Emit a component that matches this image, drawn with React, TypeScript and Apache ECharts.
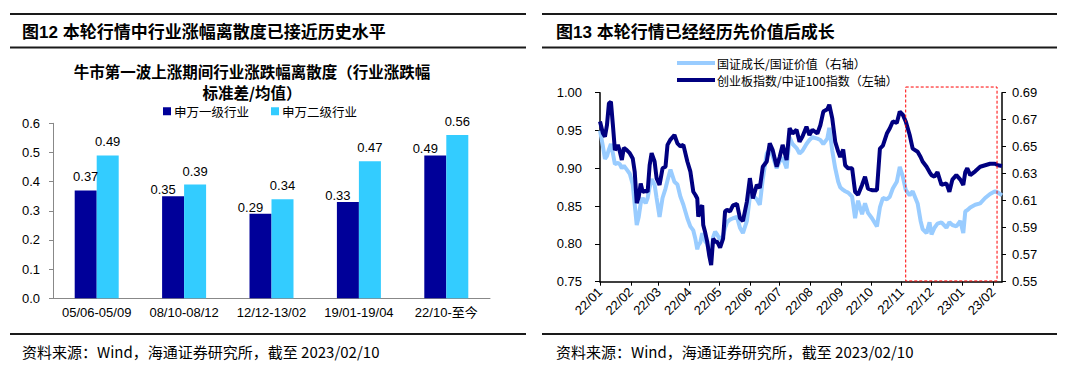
import React, { useEffect, useRef } from 'react';
import * as echarts from 'echarts';

// ---- Left chart data ----
const barCategories = ['05/06-05/09', '08/10-08/12', '12/12-13/02', '19/01-19/04', '22/10-至今'];
const swLevel1 = [0.37, 0.35, 0.29, 0.33, 0.49];
const swLevel2 = [0.49, 0.39, 0.34, 0.47, 0.56];

// ---- Right chart data ----
const lineDates = [
  '2022-01-01', '2022-01-04', '2022-01-06', '2022-01-08', '2022-01-10', '2022-01-12', '2022-01-14', '2022-01-16',
  '2022-01-19', '2022-01-21', '2022-01-23', '2022-01-25', '2022-01-28', '2022-01-31', '2022-02-03', '2022-02-05',
  '2022-02-07', '2022-02-09', '2022-02-11', '2022-02-13', '2022-02-16', '2022-02-18', '2022-02-20', '2022-02-22',
  '2022-02-25', '2022-02-27', '2022-03-02', '2022-03-05', '2022-03-08', '2022-03-10', '2022-03-13', '2022-03-17',
  '2022-03-20', '2022-03-23', '2022-03-26', '2022-03-30', '2022-04-02', '2022-04-05', '2022-04-07', '2022-04-09',
  '2022-04-10', '2022-04-12', '2022-04-14', '2022-04-15', '2022-04-17', '2022-04-19', '2022-04-21', '2022-04-23',
  '2022-04-25', '2022-04-27', '2022-04-29', '2022-05-02', '2022-05-05', '2022-05-07', '2022-05-09', '2022-05-12',
  '2022-05-15', '2022-05-19', '2022-05-22', '2022-05-25', '2022-05-29', '2022-06-01', '2022-06-04', '2022-06-08',
  '2022-06-11', '2022-06-14', '2022-06-18', '2022-06-21', '2022-06-24', '2022-06-28', '2022-07-01', '2022-07-04',
  '2022-07-08', '2022-07-11', '2022-07-14', '2022-07-18', '2022-07-21', '2022-07-24', '2022-07-28', '2022-07-31',
  '2022-08-03', '2022-08-08', '2022-08-11', '2022-08-14', '2022-08-18', '2022-08-20', '2022-08-23', '2022-08-26',
  '2022-08-29', '2022-08-31', '2022-09-03', '2022-09-05', '2022-09-08', '2022-09-12', '2022-09-15', '2022-09-18',
  '2022-09-22', '2022-09-25', '2022-09-28', '2022-10-02', '2022-10-07', '2022-10-10', '2022-10-13', '2022-10-17',
  '2022-10-20', '2022-10-23', '2022-10-27', '2022-10-30', '2022-11-02', '2022-11-05', '2022-11-09', '2022-11-12',
  '2022-11-17', '2022-11-20', '2022-11-22', '2022-11-26', '2022-11-29', '2022-12-01', '2022-12-04', '2022-12-07',
  '2022-12-11', '2022-12-16', '2022-12-19', '2022-12-22', '2022-12-26', '2022-12-30', '2023-01-02', '2023-01-04',
  '2023-01-06', '2023-01-09', '2023-01-14', '2023-01-19', '2023-01-24', '2023-01-29', '2023-02-03', '2023-02-06',
  '2023-02-10',
];
// 创业板指数/中证100指数 (left axis)
const chinextToCsi100 = [
  0.962, 0.946, 0.942, 0.957, 0.986, 0.988, 0.957, 0.924,
  0.931, 0.922, 0.911, 0.927, 0.924, 0.920, 0.913, 0.895,
  0.854, 0.862, 0.880, 0.869, 0.870, 0.869, 0.904, 0.920,
  0.909, 0.887, 0.878, 0.900, 0.902, 0.931, 0.938, 0.944,
  0.933, 0.929, 0.931, 0.909, 0.896, 0.869, 0.865, 0.860,
  0.836, 0.847, 0.851, 0.825, 0.815, 0.803, 0.785, 0.772,
  0.807, 0.803, 0.803, 0.795, 0.807, 0.843, 0.845, 0.843,
  0.851, 0.853, 0.834, 0.830, 0.856, 0.887, 0.860, 0.878,
  0.874, 0.902, 0.909, 0.933, 0.924, 0.902, 0.915, 0.931,
  0.911, 0.953, 0.946, 0.951, 0.935, 0.942, 0.955, 0.944,
  0.951, 0.946, 0.957, 0.975, 0.978, 0.984, 0.966, 0.935,
  0.922, 0.915, 0.925, 0.904, 0.900, 0.900, 0.869, 0.865,
  0.878, 0.889, 0.873, 0.871, 0.871, 0.926, 0.930, 0.946,
  0.953, 0.962, 0.960, 0.975, 0.971, 0.962, 0.944, 0.926,
  0.922, 0.915, 0.909, 0.902, 0.895, 0.891, 0.889, 0.895,
  0.878, 0.880, 0.869, 0.885, 0.891, 0.885, 0.878, 0.895,
  0.900, 0.891, 0.896, 0.902, 0.904, 0.906, 0.906, 0.904,
  0.903,
];
// 国证成长/国证价值 (right axis)
const growthToValue = [
  0.662, 0.650, 0.641, 0.643, 0.648, 0.652, 0.645, 0.637,
  0.638, 0.637, 0.634, 0.636, 0.633, 0.630, 0.622, 0.607,
  0.592, 0.598, 0.608, 0.612, 0.608, 0.612, 0.620, 0.626,
  0.622, 0.612, 0.598, 0.612, 0.619, 0.625, 0.633, 0.624,
  0.622, 0.613, 0.607, 0.597, 0.591, 0.588, 0.582, 0.574,
  0.577, 0.579, 0.586, 0.584, 0.580, 0.578, 0.572, 0.569,
  0.583, 0.587, 0.585, 0.581, 0.584, 0.590, 0.594, 0.596,
  0.597, 0.598, 0.590, 0.586, 0.595, 0.613, 0.614, 0.611,
  0.607, 0.626, 0.645, 0.648, 0.643, 0.634, 0.639, 0.642,
  0.634, 0.657, 0.652, 0.649, 0.645, 0.647, 0.652, 0.655,
  0.657, 0.656, 0.655, 0.652, 0.656, 0.664, 0.647, 0.634,
  0.624, 0.620, 0.618, 0.617, 0.616, 0.613, 0.597, 0.610,
  0.600, 0.608, 0.601, 0.597, 0.591, 0.605, 0.612, 0.611,
  0.613, 0.619, 0.624, 0.635, 0.628, 0.618, 0.614, 0.617,
  0.608, 0.595, 0.589, 0.586, 0.594, 0.585, 0.590, 0.593,
  0.594, 0.590, 0.594, 0.592, 0.591, 0.595, 0.586, 0.602,
  0.603, 0.605, 0.607, 0.608, 0.612, 0.615, 0.617, 0.616,
  0.614,
];
const leftAxisTicks = [0.75, 0.8, 0.85, 0.9, 0.95, 1.0];
const rightAxisTicks = [0.55, 0.57, 0.59, 0.61, 0.63, 0.65, 0.67, 0.69];
const monthTicks = [
  '2022-01-01', '2022-02-01', '2022-03-01', '2022-04-01', '2022-05-01', '2022-06-01', '2022-07-01',
  '2022-08-01', '2022-09-01', '2022-10-01', '2022-11-01', '2022-12-01', '2023-01-01', '2023-02-01',
];
const axisStart = '2022-01-01';
const axisEnd = '2023-02-10';
const highlightRange = { start: '2022-11-05', end: '2023-02-05', low: 0.751, high: 1.0075 };

const lightName = '国证成长/国证价值（右轴）';
const darkName = '创业板指数/中证100指数（左轴）';
const level1Name = '申万一级行业';
const level2Name = '申万二级行业';

const FONT = "'Liberation Sans', 'Noto Sans CJK SC', sans-serif";
const CJK = "'Noto Sans CJK SC', 'Liberation Sans', sans-serif";

function localTime(s: string): number {
  const [y, m, d] = s.split('-').map(Number);
  return new Date(y, m - 1, d).getTime();
}

export default function App() {
  const ref = useRef<HTMLDivElement>(null);
  useEffect(() => {
    if (!ref.current) return;
    const chart = echarts.init(ref.current, undefined, { renderer: 'svg' });
    const monthTickValues = monthTicks.map(localTime);

    const hline = (x1: number, x2: number, y: number) => ({
      type: 'line',
      shape: { x1, y1: y, x2, y2: y },
      style: { stroke: '#1a1a1a', lineWidth: 2 },
      silent: true,
    });
    const text = (x: number, y: number, t: string, size: number, weight: string, align = 'left', family = CJK) => ({
      type: 'text',
      x,
      y,
      style: { text: t, fontSize: size, fontWeight: weight, fontFamily: family, fill: '#000', align, verticalAlign: 'middle' },
      silent: true,
    });

    const option: any = {
      animation: false,
      backgroundColor: '#fff',
      textStyle: { fontFamily: FONT },
      graphic: {
        elements: [
          hline(10, 526, 14), hline(10, 526, 47.5), hline(10, 526, 334),
          hline(542, 1057, 14), hline(542, 1057, 47.5), hline(542, 1057, 334),
          text(22, 32, '图12 本轮行情中行业涨幅离散度已接近历史水平', 17, 'bold', 'left', FONT),
          text(556, 32, '图13 本轮行情已经经历先价值后成长', 17, 'bold', 'left', FONT),
          text(252, 71, '牛市第一波上涨期间行业涨跌幅离散度（行业涨跌幅', 15.5, 'bold', 'center'),
          text(252, 91.5, '标准差/均值）', 15.5, 'bold', 'center'),
          text(22, 351, '资料来源：Wind，海通证券研究所，截至 2023/02/10', 15, 'normal'),
          text(556, 351, '资料来源：Wind，海通证券研究所，截至 2023/02/10', 15, 'normal'),
        ],
      },
      legend: [
        {
          data: [level1Name, level2Name],
          left: 163,
          top: 105,
          padding: 0,
          icon: 'rect',
          itemWidth: 8,
          itemHeight: 8,
          itemGap: 22,
          textStyle: { fontSize: 12.5, fontFamily: CJK, color: '#000', lineHeight: 12, padding: [0, 0, 0, -2] },
        },
        {
          data: [lightName, darkName],
          orient: 'vertical',
          left: 677,
          top: 57,
          padding: 0,
          icon: 'rect',
          itemWidth: 38,
          itemHeight: 4,
          itemGap: 5,
          textStyle: { fontSize: 12, fontFamily: CJK, color: '#000', lineHeight: 12, padding: [0, 0, 0, -3] },
        },
      ],
      grid: [
        { left: 53, top: 123.3, width: 437, height: 175 },
        { left: 600, top: 92.7, width: 402, height: 189 },
      ],
      xAxis: [
        {
          type: 'category',
          gridIndex: 0,
          data: barCategories,
          axisLine: { lineStyle: { color: '#888', width: 1 } },
          axisTick: { length: 4, lineStyle: { color: '#888' } },
          axisLabel: { fontSize: 13, color: '#000', margin: 8, fontFamily: FONT, interval: 0 },
        },
        {
          type: 'value',
          gridIndex: 1,
          min: localTime(axisStart),
          max: localTime(axisEnd),
          axisLine: { show: true, lineStyle: { color: '#000', width: 1.5 } },
          axisTick: { show: true, length: 4, customValues: monthTickValues, lineStyle: { color: '#000' } },
          axisLabel: {
            customValues: monthTickValues,
            rotate: 45,
            fontSize: 13,
            color: '#000',
            margin: 8,
            fontFamily: FONT,
            formatter: (v: number) => {
              const d = new Date(v);
              return String(d.getFullYear()).slice(2) + '/' + String(d.getMonth() + 1).padStart(2, '0');
            },
          },
          splitLine: { show: false },
        },
      ],
      yAxis: [
        {
          type: 'value',
          gridIndex: 0,
          min: 0,
          max: 0.6,
          interval: 0.1,
          axisLine: { show: true, lineStyle: { color: '#888', width: 1 } },
          axisTick: { show: true, length: 4, lineStyle: { color: '#888' } },
          axisLabel: { fontSize: 13, color: '#000', margin: 13, formatter: (v: number) => v.toFixed(1) },
          splitLine: { show: false },
        },
        {
          type: 'value',
          gridIndex: 1,
          min: leftAxisTicks[0],
          max: leftAxisTicks[leftAxisTicks.length - 1],
          interval: 0.05,
          axisLine: { show: true, lineStyle: { color: '#000', width: 1.5 } },
          axisTick: { show: true, length: 5, lineStyle: { color: '#000' } },
          axisLabel: { fontSize: 13, color: '#000', margin: 18, formatter: (v: number) => v.toFixed(2) },
          splitLine: { show: false },
        },
        {
          type: 'value',
          gridIndex: 1,
          position: 'right',
          min: rightAxisTicks[0],
          max: rightAxisTicks[rightAxisTicks.length - 1],
          axisLine: { show: true, lineStyle: { color: '#000', width: 1.5 } },
          axisTick: { show: true, length: 4, customValues: rightAxisTicks, lineStyle: { color: '#000' } },
          axisLabel: { fontSize: 13, color: '#000', margin: 10, customValues: rightAxisTicks, formatter: (v: number) => v.toFixed(2) },
          splitLine: { show: false },
        },
      ],
      series: [
        {
          name: level1Name,
          type: 'bar',
          xAxisIndex: 0,
          yAxisIndex: 0,
          barWidth: 22,
          barGap: '0%',
          itemStyle: { color: '#000099' },
          data: swLevel1.map((v, i) => (i === 0 ? v : { value: v, label: { offset: [-10, 7] } })),
          label: { show: true, position: 'top', distance: 7, fontSize: 13, color: '#000', formatter: (p: any) => Number(p.value).toFixed(2) },
        },
        {
          name: level2Name,
          type: 'bar',
          xAxisIndex: 0,
          yAxisIndex: 0,
          barWidth: 22,
          barGap: '0%',
          itemStyle: { color: '#33CCFF' },
          data: swLevel2,
          label: { show: true, position: 'top', distance: 7, fontSize: 13, color: '#000', formatter: (p: any) => Number(p.value).toFixed(2) },
        },
        {
          name: lightName,
          type: 'line',
          xAxisIndex: 1,
          yAxisIndex: 2,
          showSymbol: false,
          symbol: 'none',
          lineStyle: { color: '#99CCFF', width: 4 },
          itemStyle: { color: '#99CCFF' },
          data: lineDates.map((d, i) => [localTime(d), growthToValue[i]]),
        },
        {
          name: darkName,
          type: 'line',
          xAxisIndex: 1,
          yAxisIndex: 1,
          showSymbol: false,
          symbol: 'none',
          lineStyle: { color: '#000080', width: 4 },
          itemStyle: { color: '#000080' },
          data: lineDates.map((d, i) => [localTime(d), chinextToCsi100[i]]),
        },
      ],
    };
    chart.setOption(option);

    // Highlight box positioned through the chart's own scales
    const p1 = chart.convertToPixel({ xAxisIndex: 1, yAxisIndex: 1 }, [localTime(highlightRange.start), highlightRange.high]);
    const p2 = chart.convertToPixel({ xAxisIndex: 1, yAxisIndex: 1 }, [localTime(highlightRange.end), highlightRange.low]);
    if (p1 && p2) {
      chart.setOption({
        graphic: {
          elements: [
            {
              id: 'highlight-box',
              type: 'rect',
              silent: true,
              z: 10,
              shape: { x: p1[0], y: p1[1], width: p2[0] - p1[0], height: p2[1] - p1[1] },
              style: { fill: 'none', stroke: '#FF0000', lineWidth: 1, lineDash: [3, 2] },
            },
          ],
        },
      });
    }
    return () => chart.dispose();
  }, []);
  return <div ref={ref} style={{ position: 'fixed', left: 0, top: 0, width: 1080, height: 366, background: '#fff' }} />;
}
